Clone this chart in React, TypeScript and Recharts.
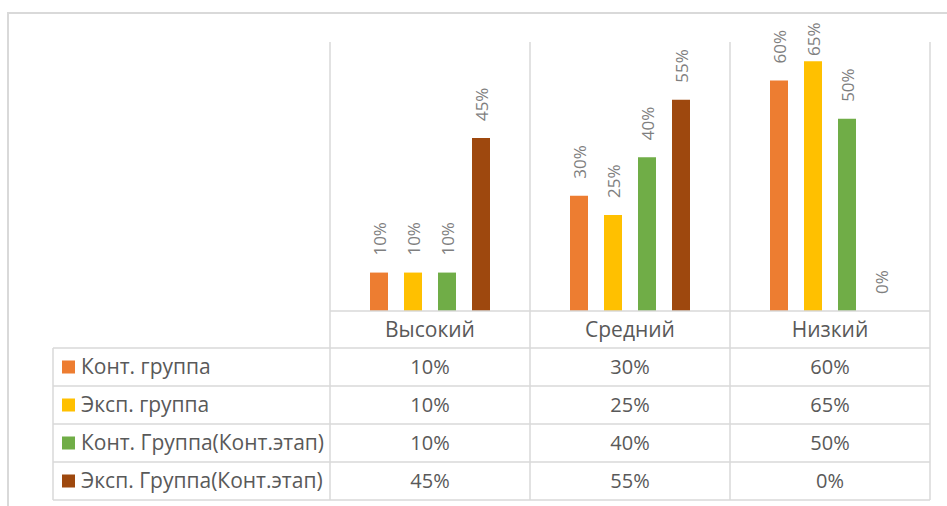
import React from 'react';
import { BarChart, Bar, XAxis, YAxis, LabelList } from 'recharts';

// ---- data ----
const categories = ['Высокий', 'Средний', 'Низкий'];
const seriesNames = [
  'Конт. группа',
  'Эксп. группа',
  'Конт. Группа(Конт.этап)',
  'Эксп. Группа(Конт.этап)',
];
const kontGruppa = [0.1, 0.3, 0.6];
const ekspGruppa = [0.1, 0.25, 0.65];
const kontGruppaEtap = [0.1, 0.4, 0.5];
const ekspGruppaEtap = [0.45, 0.55, 0.0];
const seriesValues = [kontGruppa, ekspGruppa, kontGruppaEtap, ekspGruppaEtap];
const yDomain = [0, 0.7];

// ---- style ----
const COLORS = ['#ED7D31', '#FFC000', '#70AD47', '#9E480E'];
const FONT = "'Open Sans', 'Noto Sans', sans-serif";
const GRID = '#d9d9d9';
const GRID_W = 1.5;
const TEXT = '#595959';
const LABEL = '#7f7f7f';

const W = 947;
const H = 506;
const PLOT_L = 330;
const PLOT_R = 930;
const PLOT_T = 42;
const PLOT_B = 311;
const CAT_H = 37;
const ROW_H = 38;
const LEGEND_L = 53;
const TABLE_B = PLOT_B + CAT_H + ROW_H * seriesNames.length;
const PLOT_H = PLOT_B - PLOT_T;
const HALF_BAND = (PLOT_R - PLOT_L) / categories.length / 2;
const LABEL_GAP = 17;
const LABEL_MIN_START = 56;

const pct = (v: number) => `${Math.round(v * 100)}%`;

const data = categories.map((name, i) => {
  const row: any = { name };
  seriesValues.forEach((vals, s) => {
    row[`s${s}`] = vals[i];
  });
  return row;
});

const CatTick = (props: any) => {
  const { x, y, payload, index } = props;
  const half = payload && payload.offset ? payload.offset : HALF_BAND;
  const left = x - half;
  const right = x + half;
  const tableBottom = y + CAT_H + ROW_H * seriesNames.length;
  return (
    <g>
      {index === 0 && (
        <line x1={left} x2={left} y1={y - PLOT_H} y2={tableBottom} stroke={GRID} strokeWidth={GRID_W} />
      )}
      <line x1={right} x2={right} y1={y - PLOT_H} y2={tableBottom} stroke={GRID} strokeWidth={GRID_W} />
      <line x1={left} x2={right} y1={y} y2={y} stroke={GRID} strokeWidth={GRID_W} />
      <text
        x={x}
        y={y + CAT_H / 2 + 7}
        textAnchor="middle"
        fill={TEXT}
        fontSize={21}
        fontFamily={FONT}
      >
        {payload.value}
      </text>
    </g>
  );
};

const makeRowTick = (si: number) => (props: any) => {
  const { x, y, payload, index } = props;
  const half = payload && payload.offset ? payload.offset : HALF_BAND;
  const left = x - half;
  const right = x + half;
  const ci = categories.indexOf(payload.value);
  const v = seriesValues[si][ci];
  const last = si === seriesNames.length - 1;
  return (
    <g>
      <line x1={left} x2={right} y1={y} y2={y} stroke={GRID} strokeWidth={GRID_W} />
      {last && (
        <line x1={left} x2={right} y1={y + ROW_H} y2={y + ROW_H} stroke={GRID} strokeWidth={GRID_W} />
      )}
      {index === 0 && (
        <g>
          <line x1={LEGEND_L} x2={left} y1={y} y2={y} stroke={GRID} strokeWidth={GRID_W} />
          {last && (
            <line x1={LEGEND_L} x2={left} y1={y + ROW_H} y2={y + ROW_H} stroke={GRID} strokeWidth={GRID_W} />
          )}
          <line x1={LEGEND_L} x2={LEGEND_L} y1={y} y2={y + ROW_H} stroke={GRID} strokeWidth={GRID_W} />
          <rect x={LEGEND_L + 9} y={y + ROW_H / 2 - 6.5} width={13} height={13} fill={COLORS[si]} />
          <text
            x={LEGEND_L + 28}
            y={y + ROW_H / 2 + 7}
            textAnchor="start"
            fill={TEXT}
            fontSize={21}
            fontFamily={FONT}
          >
            {seriesNames[si]}
          </text>
        </g>
      )}
      <text
        x={x}
        y={y + ROW_H / 2 + 7}
        textAnchor="middle"
        fill={TEXT}
        fontSize={20}
        fontFamily={FONT}
      >
        {pct(v)}
      </text>
    </g>
  );
};

const BarLabel = (props: any) => {
  const { x, y, width, value } = props;
  const cx = Number(x) + Number(width) / 2;
  const start = Math.max(Number(y) - LABEL_GAP, LABEL_MIN_START);
  return (
    <text
      transform={`translate(${cx},${start}) rotate(-90)`}
      textAnchor="start"
      dominantBaseline="central"
      fill={LABEL}
      fontSize={17}
      fontFamily={FONT}
    >
      {pct(Number(value))}
    </text>
  );
};

export default function App() {
  return (
    <div
      style={{
        position: 'absolute',
        left: 0,
        top: 0,
        width: W,
        height: H,
        overflow: 'hidden',
        background: '#fff',
      }}
    >
      <div
        style={{
          position: 'absolute',
          left: 7,
          top: 12,
          width: 1000,
          height: 700,
          borderTop: `2px solid ${GRID}`,
          borderLeft: `2px solid ${GRID}`,
        }}
      />
      <div style={{ position: 'absolute', left: 0, top: 0 }}>
        <BarChart
          width={W}
          height={H}
          data={data}
          margin={{ top: PLOT_T, left: PLOT_L, right: W - PLOT_R, bottom: H - TABLE_B }}
          barCategoryGap="20%"
          barGap={16}
        >
          <YAxis hide domain={yDomain} type="number" allowDataOverflow />
          <XAxis
            xAxisId="a0"
            dataKey="name"
            height={CAT_H}
            axisLine={false}
            tickLine={false}
            tickSize={0}
            tickMargin={0}
            interval={0}
            tick={CatTick}
          />
          {seriesNames.map((_, si) => (
            <XAxis
              key={`row${si}`}
              xAxisId={`a${si + 1}`}
              dataKey="name"
              height={ROW_H}
              axisLine={false}
              tickLine={false}
              tickSize={0}
              tickMargin={0}
              interval={0}
              tick={makeRowTick(si)}
            />
          ))}
          {seriesNames.map((name, si) => (
            <Bar
              key={name}
              xAxisId="a0"
              dataKey={`s${si}`}
              name={name}
              fill={COLORS[si]}
              minPointSize={0.01}
              isAnimationActive={false}
            >
              <LabelList dataKey={`s${si}`} content={BarLabel} />
            </Bar>
          ))}
        </BarChart>
      </div>
    </div>
  );
}
